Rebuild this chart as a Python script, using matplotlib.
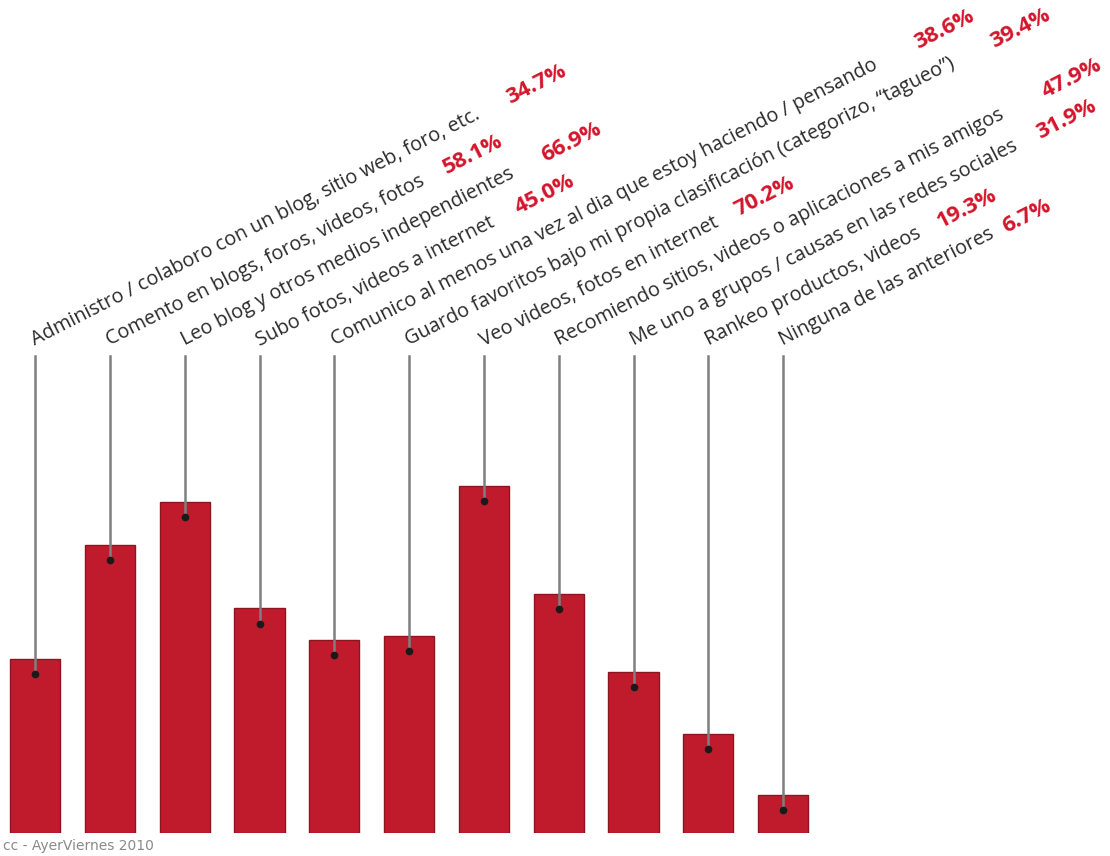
import numpy as np
import matplotlib
matplotlib.use("Agg")
import matplotlib.pyplot as plt
from matplotlib import transforms

# Data
categories = [
    "Administro / colaboro con un blog, sitio web, foro, etc.",
    "Comento en blogs, foros, videos, fotos",
    "Leo blog y otros medios independientes",
    "Subo fotos, videos a internet",
    "Comunico al menos una vez al dia que estoy haciendo / pensando",
    "Guardo favoritos bajo mi propia clasificación (categorizo, \u201ctagueo\u201d)",
    "Veo videos, fotos en internet",
    "Recomiendo sitios, videos o aplicaciones a mis amigos",
    "Me uno a grupos / causas en las redes sociales",
    "Rankeo productos, videos",
    "Ninguna de las anteriores",
]
values = [34.7, 58.1, 66.9, 45.0, 38.6, 39.4, 70.2, 47.9, 31.9, 19.3, 6.7]

# distance (px) along the label line where each percentage starts
pct_offsets = [533, 378, 405, 291, 655, 656, 286, 546, 456, 261, 250]

bar_red = "#bf1b2c"
pct_red = "#d4152b"
angle = 27
base = -1.1

fig = plt.figure(figsize=(11.10, 8.56), dpi=100)
ax = fig.add_axes([0, 1 - 833 / 856, 1, 833 / 856])
ax.set_xlim(-0.47, 14.37)
ax.set_ylim(base, base + 833 / 4.87)
ax.axis("off")

x = np.arange(len(values))
v = np.array(values)
ax.bar(x, v - base, bottom=base, width=0.67, color=bar_red,
       edgecolor="#8e1422", linewidth=1.0, zorder=1)

# leader lines and dots
for xi, val in zip(x, values):
    ax.plot([xi, xi], [val - 3.1, 96.8], color="#7f7f7f", lw=1.8, zorder=2)
    ax.plot(xi, val - 3.1, "o", color="#1a1a1a", ms=4.5, zorder=3)

th = np.deg2rad(angle)
for xi, lab, val, off in zip(x, categories, values, pct_offsets):
    ax.text(xi, 98.9, lab, rotation=angle, rotation_mode="anchor",
            ha="left", va="baseline", fontsize=14.3, color="#2b2b2b",
            family="Open Sans")
    tr = transforms.offset_copy(ax.transData, fig=fig, x=off * np.cos(th),
                                y=off * np.sin(th), units="dots")
    ax.text(xi, 98.9, f"{val:.1f}%", transform=tr, rotation=angle,
            rotation_mode="anchor", ha="left", va="baseline", fontsize=16,
            fontweight="bold", color=pct_red, family="Open Sans")

fig.text(0.003, 1 - 846 / 856, "cc - AyerViernes 2010", fontsize=10,
         color="#8a8a8a", ha="left", va="center")

fig.savefig("out.png", dpi=100, facecolor="white")
